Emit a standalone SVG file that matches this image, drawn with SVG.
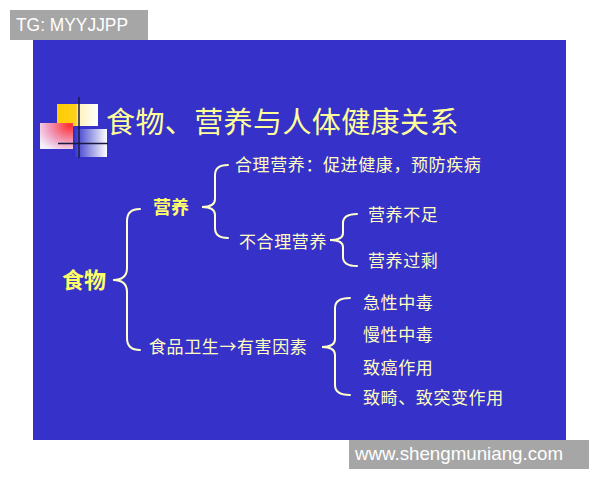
<svg xmlns="http://www.w3.org/2000/svg" width="600" height="480" viewBox="0 0 600 480">
  <defs>
    <style>
      .t { font-family: "Noto Sans CJK SC", "Noto Sans", sans-serif; fill: #ffffc0; font-size: 17px; letter-spacing: 0.6px; }
      .b { font-family: "Noto Sans CJK SC", "Noto Sans", sans-serif; fill: #ffff66; font-weight: bold; }
      .brace { fill: none; stroke: #ffffcc; stroke-width: 2; stroke-linecap: round; }
      .wm { font-family: "Liberation Sans", Arial, sans-serif; fill: #ffffff; }
    </style>
    <linearGradient id="gY" x1="0" y1="0" x2="1" y2="0">
      <stop offset="0" stop-color="#ffcc00"/>
      <stop offset="0.45" stop-color="#ffd11a"/>
      <stop offset="0.55" stop-color="#fff2c0"/>
      <stop offset="1" stop-color="#ffffff"/>
    </linearGradient>
    <radialGradient id="gR" cx="0.9" cy="0.1" r="1.1">
      <stop offset="0" stop-color="#ff3030"/>
      <stop offset="0.6" stop-color="#f0a0c0"/>
      <stop offset="1" stop-color="#f4f0ff"/>
    </radialGradient>
    <linearGradient id="gB" x1="0" y1="0" x2="1" y2="0">
      <stop offset="0" stop-color="#2a2ac8"/>
      <stop offset="1" stop-color="#ffffff"/>
    </linearGradient>
    <linearGradient id="gL" x1="0" y1="0" x2="1" y2="0">
      <stop offset="0" stop-color="#8a88e0"/>
      <stop offset="1" stop-color="#f0f0ff"/>
    </linearGradient>
  </defs>

  <rect x="0" y="0" width="600" height="480" fill="#ffffff"/>
  <rect x="33" y="40" width="533" height="400" fill="#3632c9"/>

  <!-- watermarks -->
  <g id="wm-top">
    <rect x="10" y="10" width="138" height="30" fill="#a6a6a6"/>
    <text class="wm" x="16" y="31" font-size="17.5" textLength="112" lengthAdjust="spacingAndGlyphs">TG: MYYJJPP</text>
  </g>
  <g id="wm-bottom">
    <rect x="349" y="440" width="240" height="29" fill="#a6a6a6"/>
    <text class="wm" x="355" y="460" font-size="18.5" textLength="208" lengthAdjust="spacingAndGlyphs">www.shengmuniang.com</text>
  </g>

  <!-- title decoration -->
  <g id="title-deco">
    <rect x="57" y="104" width="41" height="22" fill="url(#gY)"/>
    <rect x="40" y="123" width="33" height="26" fill="url(#gR)"/>
    <rect x="73" y="129" width="34" height="28" fill="url(#gB)"/>
    <line x1="107" y1="144" x2="538" y2="144" stroke="url(#gL)" stroke-width="2"/>
    <line x1="58" y1="143.5" x2="108" y2="143.5" stroke="#1a1a40" stroke-width="1.5"/>
    <line x1="79" y1="97" x2="79" y2="158" stroke="#1a1a40" stroke-width="1.5"/>
  </g>

  <g id="title">
    <text x="106" y="133" font-family="'Noto Sans CJK SC', sans-serif" font-size="29" letter-spacing="0.4" fill="#ffff99">食物、营养与人体健康关系</text>
  </g>

  <!-- connectors (braces) -->
  <g id="connectors">
    <path class="brace" d="M140 209 Q127 209 127 221 L127 268 Q127 280 113 280 Q127 280 127 292 L127 338 Q127 350 140 350"/>
    <path class="brace" d="M228 165 Q215 165 215 175 L215 199 Q215 207 202 207 Q215 207 215 215 L215 228 Q215 238 228 238"/>
    <path class="brace" d="M357 214 Q343 214 343 223 L343 233 Q343 240 330 240 Q343 240 343 247 L343 257 Q343 266 357 266"/>
    <path class="brace" d="M350 298 Q335 298 335 308 L335 339 Q335 347 322 347 Q335 347 335 355 L335 385 Q335 395 350 395"/>
  </g>

  <!-- nodes -->
  <g id="n-food"><text class="b" x="62" y="288" font-size="22">食物</text></g>
  <g id="n-nutrition"><text class="b" x="153" y="213.5" font-size="18">营养</text></g>
  <g id="n-reasonable"><text class="t" x="235" y="171">合理营养：促进健康，预防疾病</text></g>
  <g id="n-unreasonable"><text class="t" x="239" y="248" letter-spacing="0">不合理营养</text></g>
  <g id="n-deficit"><text class="t" x="368" y="221">营养不足</text></g>
  <g id="n-excess"><text class="t" x="368" y="267">营养过剩</text></g>
  <g id="n-hygiene"><text class="t" x="149" y="353">食品卫生→有害因素</text></g>
  <g id="n-acute"><text class="t" x="363" y="309">急性中毒</text></g>
  <g id="n-chronic"><text class="t" x="363" y="341">慢性中毒</text></g>
  <g id="n-cancer"><text class="t" x="363" y="374">致癌作用</text></g>
  <g id="n-terato"><text class="t" x="363" y="404">致畸、致突变作用</text></g>
</svg>
